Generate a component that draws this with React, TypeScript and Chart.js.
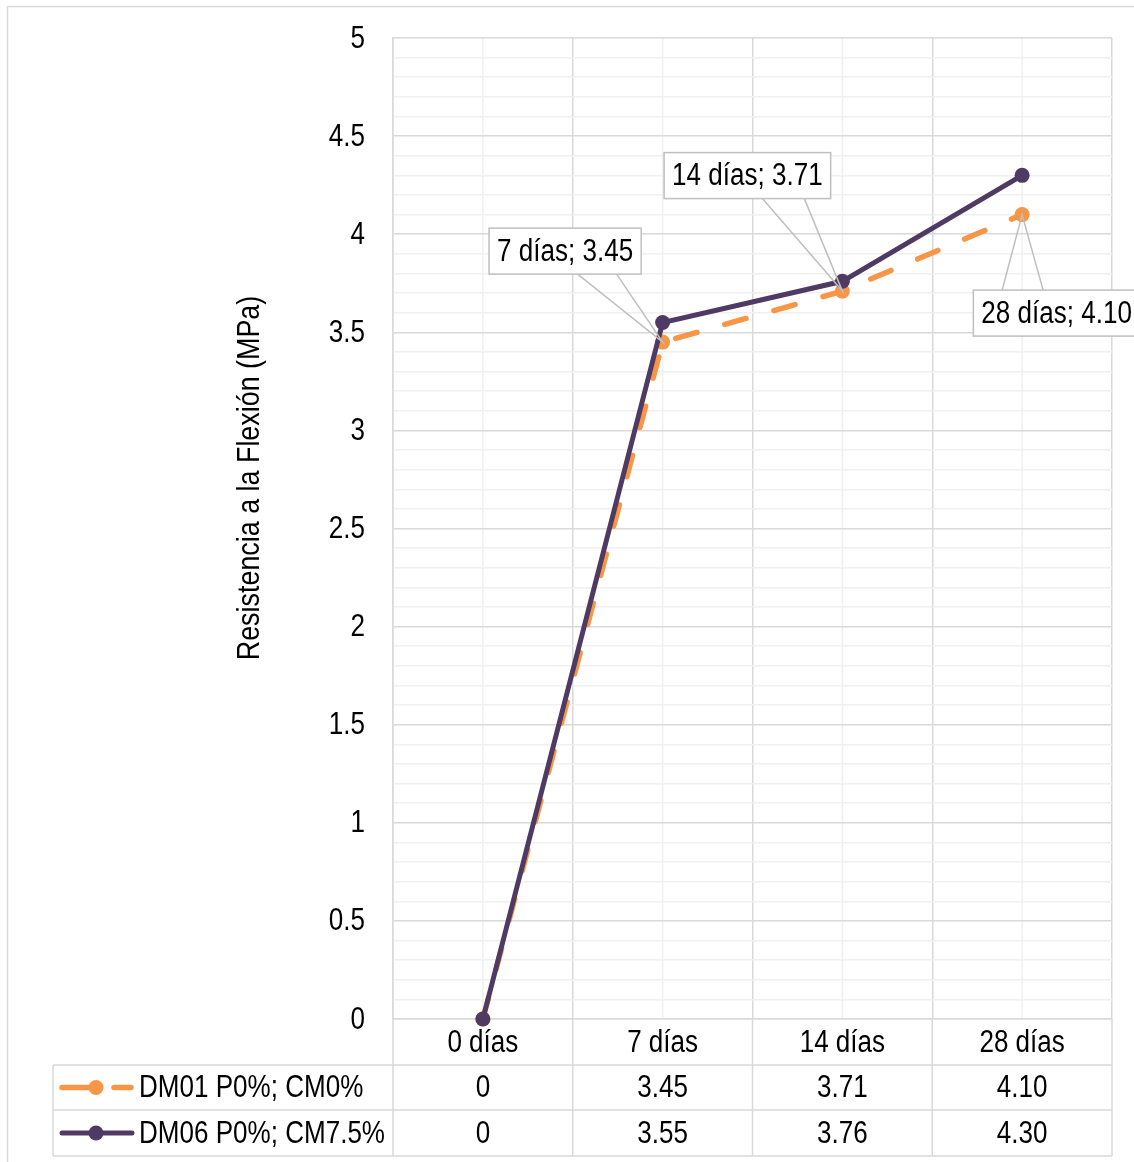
import React, { useEffect, useRef } from "react";
import { Chart, registerables } from "chart.js";

Chart.register(...registerables);

const categories = ["0 días", "7 días", "14 días", "28 días"];
const seriesNames = ["DM01 P0%; CM0%", "DM06 P0%; CM7.5%"];
const dm01Values = [0, 3.45, 3.71, 4.1];
const dm06Values = [0, 3.55, 3.76, 4.3];
const yTitle = "Resistencia a la Flexión (MPa)";
const labelledPoints = [1, 2, 3]; // DM01 indices with callouts

const FONT = "'Liberation Sans', Arial, sans-serif";
const NARROW = 0.84;
const ORANGE = "#F79646";
const PURPLE = "#4E3A62";
const MAJOR = "#d9d9d9";
const MINOR = "#f0f0f0";

// callout geometry (relative to the point): box center offset, leader base x offsets
const callouts = [
  { dx: -97.5, dy: -91, b1: 12.5, b2: 51.5, below: false },
  { dx: -95, dy: -115.5, b1: 15, b2: 57, below: false },
  { dx: 34.5, dy: 98.5, b1: -54.5, b2: -13.5, below: true },
];

const fmt = (v: number) => (v === 0 ? "0" : v.toFixed(2));

function narrowText(ctx: any, text: string, x: number, y: number, align: string) {
  ctx.save();
  ctx.translate(x, y);
  ctx.scale(NARROW, 1);
  ctx.textAlign = align;
  ctx.textBaseline = "middle";
  ctx.fillText(text, 0, 0);
  ctx.restore();
}

export default function App() {
  const ref = useRef<HTMLCanvasElement | null>(null);

  useEffect(() => {
    if (!ref.current) return;
    const fontSize = 31;
    const font = `${fontSize}px ${FONT}`;

    const extras = {
      id: "extras",
      beforeDraw(chart: any) {
        const ctx = chart.ctx;
        const ca = chart.chartArea;
        const xs = chart.scales.x;
        ctx.save();
        ctx.fillStyle = "#fff";
        ctx.fillRect(0, 0, chart.width, chart.height);
        ctx.strokeStyle = "#d9d9d9";
        ctx.lineWidth = 1.5;
        ctx.strokeRect(7.5, 6.5, 1140, 1170);
        ctx.strokeStyle = MINOR;
        ctx.lineWidth = 1.5;
        categories.forEach((_, i) => {
          const x = xs.getPixelForValue(i);
          ctx.beginPath();
          ctx.moveTo(x, ca.top);
          ctx.lineTo(x, ca.bottom);
          ctx.stroke();
        });
        ctx.restore();
      },
      afterDatasetsDraw(chart: any) {
        const ctx = chart.ctx;
        const ca = chart.chartArea;
        const xs = chart.scales.x;
        const ys = chart.scales.y;
        ctx.save();
        ctx.fillStyle = "#000";
        ctx.font = font;

        // y tick labels (major only)
        ys.ticks.forEach((t: any) => {
          const v = t.value;
          if (Math.abs(v * 2 - Math.round(v * 2)) < 1e-6) {
            narrowText(ctx, String(Math.round(v * 10) / 10), ca.left - 28, ys.getPixelForValue(v) + 1, "right");
          }
        });

        // axis title
        ctx.save();
        ctx.translate(250, 478);
        ctx.rotate(-Math.PI / 2);
        ctx.font = `32px ${FONT}`;
        narrowText(ctx, yTitle, 0, 0, "center");
        ctx.restore();

        // data table
        const rowTop = ca.bottom;
        const rows = [rowTop, rowTop + 46, rowTop + 91, rowTop + 137];
        const tableLeft = 53;
        ctx.strokeStyle = MAJOR;
        ctx.lineWidth = 1.5;
        for (let r = 1; r < rows.length; r++) {
          ctx.beginPath();
          ctx.moveTo(tableLeft, rows[r]);
          ctx.lineTo(ca.right, rows[r]);
          ctx.stroke();
        }
        const half = (xs.getPixelForValue(1) - xs.getPixelForValue(0)) / 2;
        const bounds = [ca.left];
        categories.forEach((_, i) => bounds.push(xs.getPixelForValue(i) + half));
        bounds.forEach((bx) => {
          ctx.beginPath();
          ctx.moveTo(bx, rows[0]);
          ctx.lineTo(bx, rows[3]);
          ctx.stroke();
        });
        ctx.beginPath();
        ctx.moveTo(tableLeft, rows[1]);
        ctx.lineTo(tableLeft, rows[3]);
        ctx.stroke();

        ctx.fillStyle = "#000";
        ctx.font = font;
        const mid = (a: number, b: number) => (a + b) / 2 + 1;
        categories.forEach((c, i) => {
          const x = xs.getPixelForValue(i);
          narrowText(ctx, c, x, mid(rows[0], rows[1]), "center");
          narrowText(ctx, fmt(dm01Values[i]), x, mid(rows[1], rows[2]), "center");
          narrowText(ctx, fmt(dm06Values[i]), x, mid(rows[2], rows[3]), "center");
        });
        // legend keys
        const keyY = [mid(rows[1], rows[2]) - 1, mid(rows[2], rows[3]) - 1];
        ctx.lineCap = "round";
        ctx.strokeStyle = ORANGE;
        ctx.lineWidth = 5.5;
        ctx.beginPath();
        ctx.moveTo(62, keyY[0]);
        ctx.lineTo(96, keyY[0]);
        ctx.moveTo(114, keyY[0]);
        ctx.lineTo(131, keyY[0]);
        ctx.stroke();
        ctx.fillStyle = ORANGE;
        ctx.beginPath();
        ctx.arc(96, keyY[0], 7.5, 0, Math.PI * 2);
        ctx.fill();
        ctx.strokeStyle = PURPLE;
        ctx.lineWidth = 5;
        ctx.beginPath();
        ctx.moveTo(62, keyY[1]);
        ctx.lineTo(132, keyY[1]);
        ctx.stroke();
        ctx.fillStyle = PURPLE;
        ctx.beginPath();
        ctx.arc(96, keyY[1], 7.5, 0, Math.PI * 2);
        ctx.fill();
        ctx.fillStyle = "#000";
        narrowText(ctx, seriesNames[0], 139, mid(rows[1], rows[2]), "left");
        narrowText(ctx, seriesNames[1], 139, mid(rows[2], rows[3]), "left");

        // callouts
        labelledPoints.forEach((idx, k) => {
          const px = xs.getPixelForValue(idx);
          const py = ys.getPixelForValue(dm01Values[idx]);
          const co = callouts[k];
          const text = `${categories[idx]}; ${fmt(dm01Values[idx])}`;
          ctx.font = font;
          const tw = ctx.measureText(text).width * NARROW;
          const w = tw + 16;
          const h = 46;
          const cx = px + co.dx;
          const cy = py + co.dy;
          const bx = cx - w / 2;
          const by = cy - h / 2;
          const baseY = co.below ? by : by + h;
          ctx.strokeStyle = "#bfbfbf";
          ctx.lineWidth = 1.5;
          ctx.lineCap = "butt";
          ctx.beginPath();
          ctx.moveTo(cx + co.b1, baseY);
          ctx.lineTo(px, py);
          ctx.lineTo(cx + co.b2, baseY);
          ctx.stroke();
          ctx.fillStyle = "#fff";
          ctx.fillRect(bx, by, w, h);
          ctx.strokeRect(bx, by, w, h);
          ctx.fillStyle = "#000";
          narrowText(ctx, text, cx, cy + 1, "center");
        });
        ctx.restore();
      },
    };

    const isMajor = (v: number) => Math.abs(v * 2 - Math.round(v * 2)) < 1e-6;

    const chart = new Chart(ref.current, {
      type: "line",
      data: {
        labels: categories,
        datasets: [
          {
            label: seriesNames[0],
            data: dm01Values,
            borderColor: ORANGE,
            backgroundColor: ORANGE,
            borderWidth: 5.5,
            borderDash: [22, 29],
            borderCapStyle: "round",
            pointRadius: 7.5,
            pointBorderWidth: 0,
            pointBackgroundColor: ORANGE,
            tension: 0,
            clip: false,
            order: 2,
          },
          {
            label: seriesNames[1],
            data: dm06Values,
            borderColor: PURPLE,
            backgroundColor: PURPLE,
            borderWidth: 5,
            pointRadius: 7.5,
            pointBorderWidth: 0,
            pointBackgroundColor: PURPLE,
            tension: 0,
            clip: false,
            order: 1,
          },
        ],
      },
      options: {
        responsive: false,
        animation: false,
        layout: { padding: { left: 0, right: 22, top: 38, bottom: 143 } },
        plugins: { legend: { display: false }, tooltip: { enabled: false } },
        scales: {
          x: {
            type: "category",
            offset: true,
            ticks: { display: false },
            grid: { offset: true, color: MAJOR, lineWidth: 1.5, drawTicks: false },
            border: { color: MAJOR, width: 1.5 },
          },
          y: {
            min: 0,
            max: 5,
            afterFit: (s: any) => {
              s.width = 393;
            },
            ticks: {
              display: false,
              stepSize: 0.1,
              autoSkip: false,
            },
            grid: {
              drawTicks: false,
              lineWidth: 1.5,
              color: (c: any) => (isMajor(c.tick.value) ? MAJOR : MINOR),
            },
            border: { color: MAJOR, width: 1.5 },
          },
        },
      },
      plugins: [extras],
    } as any);
    return () => chart.destroy();
  }, []);

  return (
    <div style={{ position: "absolute", left: 0, top: 0, width: 1134, height: 1162 }}>
      <canvas ref={ref} width={1134} height={1162} style={{ display: "block" }} />
    </div>
  );
}
